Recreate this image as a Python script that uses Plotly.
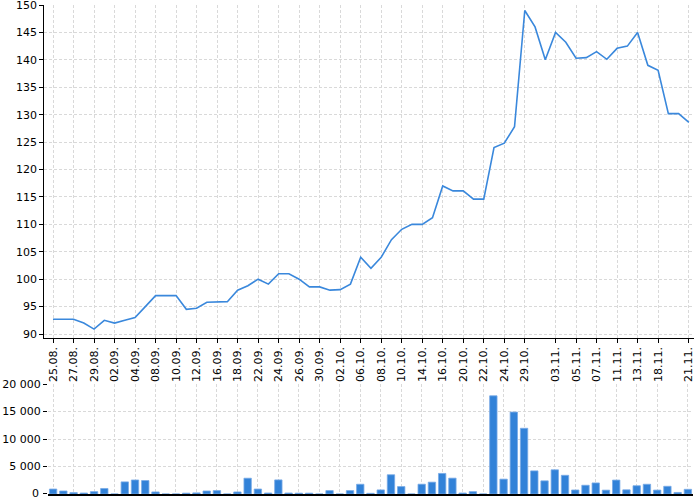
import plotly.graph_objects as go

dates = ["25.08", "26.08", "27.08", "28.08", "29.08", "01.09", "02.09", "03.09", "04.09", "05.09",
         "08.09", "09.09", "10.09", "11.09", "12.09", "15.09", "16.09", "17.09", "18.09", "19.09",
         "22.09", "23.09", "24.09", "25.09", "26.09", "29.09", "30.09", "01.10", "02.10", "03.10",
         "06.10", "07.10", "08.10", "09.10", "10.10", "13.10", "14.10", "15.10", "16.10", "17.10",
         "20.10", "21.10", "22.10", "23.10", "24.10", "28.10", "29.10", "30.10", "31.10", "03.11",
         "04.11", "05.11", "06.11", "07.11", "10.11", "11.11", "12.11", "13.11", "17.11", "18.11",
         "19.11", "20.11", "21.11"]

price = [92.7, 92.7, 92.7, 92.0, 90.9, 92.5, 92.0, 92.5, 93.0, 95.0,
         97.0, 97.0, 97.0, 94.5, 94.7, 95.8, 95.9, 95.9, 98.0, 98.8,
         100.0, 99.1, 101.0, 101.0, 100.0, 98.6, 98.6, 98.0, 98.1, 99.1,
         104.0, 102.0, 104.0, 107.2, 109.1, 110.0, 110.0, 111.2, 117.0, 116.1,
         116.1, 114.6, 114.6, 124.0, 124.8, 127.8, 149.0, 146.0, 140.0, 145.0,
         143.2, 140.3, 140.4, 141.5, 140.1, 142.1, 142.5, 145.0, 139.0, 138.1,
         130.2, 130.2, 128.6]

volume = [900, 550, 250, 180, 430, 1000, 0, 2200, 2550, 2450,
          370, 0, 0, 150, 200, 550, 620, 0, 370, 2870,
          900, 180, 2560, 180, 150, 150, 0, 620, 0, 620,
          1770, 120, 740, 3500, 1350, 0, 1780, 2150, 3740, 2880,
          180, 430, 0, 17850, 2700, 14900, 11950, 4200, 2390, 4400,
          3400, 730, 1590, 2010, 700, 2530, 760, 1500, 1770, 710,
          1400, 280, 850]

tick_dates = ["25.08", "27.08", "29.08", "02.09", "04.09", "08.09", "10.09", "12.09", "16.09",
              "18.09", "22.09", "24.09", "26.09", "30.09", "02.10", "06.10", "08.10", "10.10",
              "14.10", "16.10", "20.10", "22.10", "24.10", "29.10", "03.11", "05.11", "07.11",
              "11.11", "13.11", "18.11", "21.11"]
tick_labels = [d + "." for d in tick_dates]

price_ticks = [90, 95, 100, 105, 110, 115, 120, 125, 130, 135, 140, 145, 150]
vol_ticks = [0, 5000, 10000, 15000, 20000]
vol_tick_labels = ["0", "5 000", "10 000", "15 000", "20 000"]

LINE = "#3a88dc"
GRID = "#d9d9d9"
FONT = dict(family="DejaVu Sans", size=11, color="#000")

fig = go.Figure()
fig.add_trace(go.Scatter(x=dates, y=price, mode="lines", line=dict(color=LINE, width=1.6),
                         xaxis="x", yaxis="y", hoverinfo="skip"))
fig.add_trace(go.Bar(x=dates, y=volume, marker=dict(color="#3282d8",
                     line=dict(color="rgba(120,170,230,0.8)", width=1)),
                     width=0.72, xaxis="x2", yaxis="y2", hoverinfo="skip"))

W, H = 700, 500
def fx(px):
    return px / W
def fy(py):
    return 1 - py / H

# the zero label of the volume axis is drawn as an annotation on the axis scale
shown_vol_labels = [""] + vol_tick_labels[1:]
fig.add_annotation(text=vol_tick_labels[0], xref="paper", x=fx(41), xanchor="right",
                   yref="y2", y=vol_ticks[0], yanchor="middle", showarrow=False,
                   font=FONT)

fig.update_layout(
    width=W, height=H,
    margin=dict(l=0, r=0, t=0, b=0, autoexpand=False),
    paper_bgcolor="white", plot_bgcolor="white",
    showlegend=False,
    font=FONT,
    xaxis=dict(domain=[fx(44.3), fx(694)], type="category", range=[-0.85, 62.5],
               tickvals=tick_dates, ticktext=tick_labels, tickangle=-90,
               showline=True, linecolor="#000", linewidth=1,
               ticks="outside", ticklen=4, tickcolor="#000",
               showgrid=True, gridcolor=GRID, griddash="3px,2px", gridwidth=1,
               anchor="y", tickfont=FONT, automargin=False, ticklabeloverflow="allow"),
    yaxis=dict(domain=[fy(337.7), fy(5)], range=[89.33, 150.001], tickvals=price_ticks,
               showline=True, linecolor="#000", linewidth=1,
               ticks="outside", ticklen=4, tickcolor="#000",
               showgrid=True, gridcolor=GRID, griddash="3px,2px", gridwidth=1,
               zeroline=False, anchor="x", tickfont=FONT, automargin=False,
               ticklabeloverflow="allow"),
    xaxis2=dict(domain=[fx(48), fx(693)], type="category", range=[-0.5, 62.5],
                tickvals=tick_dates, showticklabels=False,
                showline=True, linecolor="#000", linewidth=1.5,
                ticks="", showgrid=True, gridcolor=GRID, griddash="3px,2px", gridwidth=1,
                anchor="y2", automargin=False),
    yaxis2=dict(domain=[fy(494), fy(384)], range=[-1, 20000.01], tickvals=vol_ticks,
                ticktext=shown_vol_labels, showline=False,
                ticks="outside", ticklen=4, tickcolor="#000",
                showgrid=True, gridcolor=GRID, griddash="3px,2px", gridwidth=1,
                zeroline=False, anchor="x2", tickfont=FONT, automargin=False,
                ticklabeloverflow="allow"),
    bargap=0.28,
)

fig.write_html("out.html", config={"displayModeBar": False},
               post_script="document.body.style.margin='0px';document.body.style.overflow='hidden';")
